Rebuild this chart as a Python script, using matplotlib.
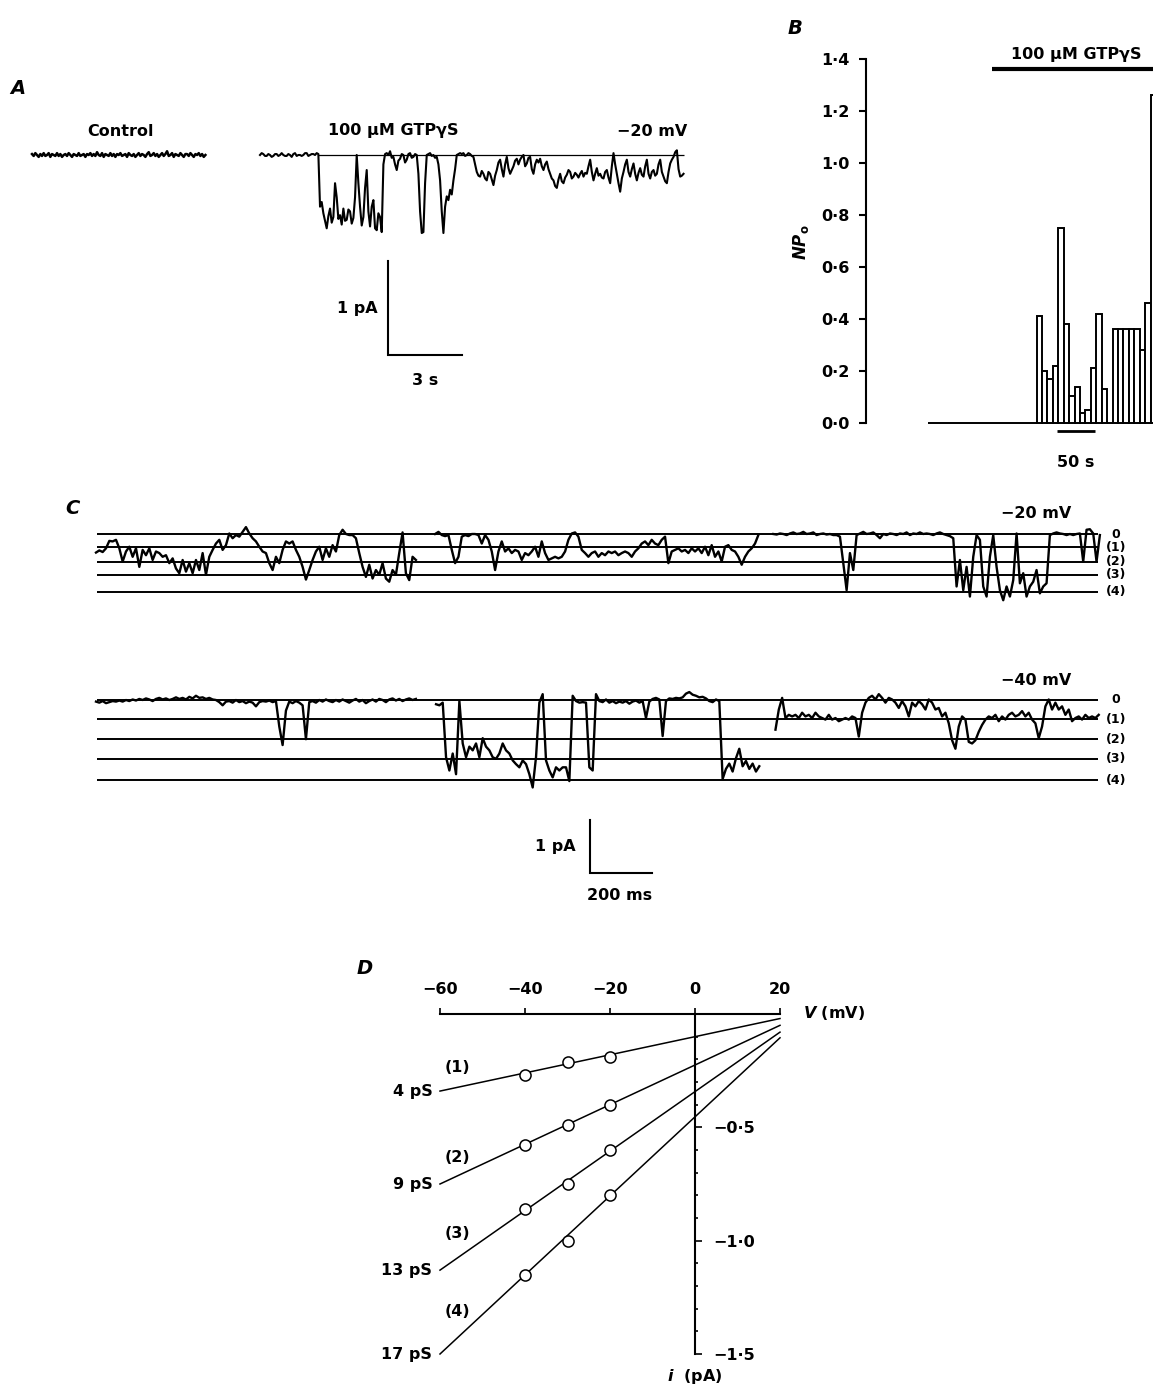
import numpy as np
import matplotlib
matplotlib.use("Agg")
import matplotlib.pyplot as plt
from matplotlib.ticker import MultipleLocator

plt.rcParams['font.family'] = ['DejaVu Sans']
plt.rcParams['font.weight'] = 'bold'
plt.rcParams['mathtext.fontset'] = 'custom'
plt.rcParams['mathtext.it'] = 'DejaVu Sans:italic:bold'
plt.rcParams['mathtext.rm'] = 'DejaVu Sans:bold'
plt.rcParams['mathtext.bf'] = 'DejaVu Sans:bold'

# ------------------------------------------------------------------ data
# Panel A : single-channel current (pA), sampled every A_dt_s seconds
A_dt_s = 0.0676
A_ctrl_pA = [0.01, -0.01, 0.02, 0.00, -0.02, 0.01, -0.01, 0.02, -0.01, 0.00, 0.02, -0.02,
             0.01, 0.00, -0.01, 0.02, -0.01, 0.01, -0.02, 0.00, 0.01, -0.01, 0.02, 0.00,
             -0.02, 0.01, 0.00, -0.01, 0.02, -0.01, 0.00, 0.01, -0.02, 0.01, 0.00, 0.02,
             -0.01, 0.01, -0.01, 0.03, 0.00, -0.01, 0.02, -0.02, 0.01, 0.00, -0.01, 0.02,
             -0.01, 0.01, -0.02, 0.01, 0.00, 0.02, -0.01, 0.00, 0.01, -0.02, 0.02, 0.00,
             -0.01, 0.01, -0.02, 0.00, 0.02, -0.01, 0.01, 0.00, -0.02, 0.01, 0.03, -0.01,
             0.00, 0.02, -0.01, 0.01, -0.02, 0.00, 0.02, -0.01, 0.01, 0.04, -0.01, 0.00,
             0.02, -0.02, 0.01, 0.00, -0.01, 0.02, 0.00, -0.02, 0.01, 0.01, -0.01, 0.02,
             0.00, -0.02, 0.01, 0.00, 0.02, -0.01, 0.01, -0.02, 0.00]
A_gtp_pA = [0.00, 0.02, 0.01, -0.01, -0.01, 0.01, 0.00, -0.02, -0.01, 0.01, 0.01, -0.01,
            0.00, 0.02, 0.00, -0.01, -0.01, 0.01, 0.00, -0.02, 0.01, 0.02, -0.01, 0.00,
            0.00, -0.01, 0.00, 0.02, 0.02, -0.01, 0.00, 0.01, 0.01, 0.00, 0.02, 0.01,
            -0.55, -0.50, -0.62, -0.70, -0.78, -0.65, -0.57, -0.72, -0.66, -0.30, -0.45, -0.68,
            -0.64, -0.74, -0.57, -0.70, -0.69, -0.58, -0.60, -0.73, -0.67, -0.45,
            0.00, -0.30, -0.55, -0.75, -0.66, -0.35, -0.16, -0.60, -0.76, -0.55, -0.48, -0.78,
            -0.80, -0.62, -0.66, -0.82, -0.10,
            0.01, 0.02, 0.00, 0.04, -0.03, -0.02, -0.10, -0.16, -0.06, -0.04, 0.01, 0.00,
            -0.08, -0.05, 0.01, 0.02, -0.03, -0.02, 0.01, 0.00, -0.20,
            -0.60, -0.83, -0.82, -0.30,
            0.00, 0.01, 0.02, -0.01, 0.00, -0.03, -0.02, -0.10,
            -0.27, -0.60, -0.83, -0.55, -0.44, -0.48, -0.37, -0.42, -0.27, -0.15,
            0.00, 0.01, 0.02, 0.01, 0.02, -0.01, 0.00, 0.02, 0.01, -0.01, -0.02, -0.10,
            -0.18, -0.22, -0.23, -0.17, -0.20, -0.25, -0.27, -0.18, -0.20, -0.26, -0.32, -0.22,
            -0.16, -0.08, -0.05, -0.15, -0.23, -0.10, -0.02, -0.14, -0.20, -0.16, -0.12, -0.06,
            -0.04, -0.10, -0.05, -0.02, 0.00, -0.12, -0.09, -0.03, -0.02, -0.15, -0.20, -0.10,
            -0.05, -0.08, -0.04, -0.12, -0.16, -0.10, -0.07, -0.15, -0.20, -0.25, -0.27, -0.33,
            -0.35, -0.26, -0.20, -0.28, -0.30, -0.24, -0.21, -0.16, -0.18, -0.25, -0.23, -0.19,
            -0.21, -0.24, -0.20, -0.17, -0.23, -0.19, -0.20, -0.12, -0.05, -0.18, -0.27, -0.20,
            -0.14, -0.22, -0.20, -0.24, -0.25, -0.18, -0.16, -0.24, -0.30, -0.12, 0.02, -0.10,
            -0.20, -0.30, -0.39, -0.25, -0.18, -0.10, -0.05, -0.18, -0.23, -0.15, -0.09, -0.20,
            -0.27, -0.19, -0.14, -0.21, -0.23, -0.12, -0.05, -0.20, -0.25, -0.18, -0.16, -0.22,
            -0.20, -0.10, -0.05, -0.18, -0.23, -0.28, -0.30, -0.18, -0.09, -0.05, -0.02, 0.03,
            0.05, -0.15, -0.23, -0.22, -0.20]
A_zero_from_s = 2.37

# Panel B : NPo per bin
B_bin_s = 50 / 7
B_npo = [0.0, 0.0, 0.0, 0.0, 0.0, 0.0, 0.0, 0.0, 0.0, 0.0,
         0.0, 0.0, 0.0, 0.0, 0.0, 0.0, 0.0, 0.0, 0.0, 0.0,
         0.41, 0.20, 0.17, 0.22, 0.75, 0.38, 0.105, 0.14, 0.04, 0.05,
         0.21, 0.42, 0.13, 0.0, 0.36, 0.36, 0.36, 0.36, 0.36, 0.28,
         0.46, 1.26]
B_gtp_start_s = 84.0
B_yticks = [0.0, 0.2, 0.4, 0.6, 0.8, 1.0, 1.2, 1.4]

# Panel C : multi-level traces (pA), sampled every C_dt_ms
C_dt_ms = 10.75
C_level_names = ['0', '(1)', '(2)', '(3)', '(4)']
C20_levels = [0.0, -0.25, -0.52, -0.77, -1.09]
C40_levels = [0.0, -0.36, -0.74, -1.11, -1.51]
C_line_ms = [3, 3232]
C20_starts_ms = [0, 1094, 2185]
C20_seg1 = [-0.35, -0.31, -0.34, -0.27, -0.13, -0.14, -0.11, -0.27, -0.52, -0.33, -0.24, -0.43,
            -0.27, -0.62, -0.30, -0.40, -0.27, -0.49, -0.33, -0.36, -0.43, -0.40, -0.55, -0.46,
            -0.65, -0.74, -0.49, -0.71, -0.55, -0.74, -0.49, -0.68, -0.36, -0.77, -0.43, -0.30,
            -0.18, -0.11, -0.30, -0.21, 0.01, -0.08, -0.02, -0.05, 0.04, 0.13, 0.01, -0.08,
            -0.14, -0.24, -0.33, -0.36, -0.55, -0.68, -0.43, -0.55, -0.30, -0.14, -0.18, -0.14,
            -0.30, -0.43, -0.62, -0.86, -0.68, -0.49, -0.33, -0.24, -0.49, -0.27, -0.43, -0.21,
            -0.33, -0.02, 0.08, 0.00, -0.02, -0.02, -0.08, -0.36, -0.62, -0.81, -0.58, -0.84,
            -0.68, -0.77, -0.55, -0.84, -0.90, -0.68, -0.77, -0.36, 0.03, -0.74, -0.87, -0.43,
            -0.49]
C20_seg2 = [0.00, 0.04, -0.02, -0.04, -0.02, -0.30, -0.55, -0.43, -0.05, -0.02, -0.04, 0.00,
            0.00, -0.02, -0.18, -0.02, -0.11, -0.33, -0.68, -0.33, -0.14, -0.33, -0.27, -0.36,
            -0.30, -0.33, -0.49, -0.36, -0.40, -0.33, -0.24, -0.43, -0.14, -0.36, -0.49, -0.46,
            -0.43, -0.46, -0.43, -0.33, -0.11, 0.01, 0.03, -0.05, -0.30, -0.36, -0.43,
            -0.36, -0.33, -0.43, -0.36, -0.40, -0.33, -0.36, -0.33, -0.40, -0.36, -0.33, -0.36,
            -0.43, -0.33, -0.27, -0.18, -0.14, -0.21, -0.11, -0.18, -0.21, -0.11, -0.05, -0.55,
            -0.33, -0.30, -0.27, -0.33, -0.30, -0.36, -0.27, -0.33, -0.27, -0.36, -0.24, -0.40,
            -0.21, -0.43, -0.33, -0.52, -0.24, -0.21, -0.30, -0.33, -0.43, -0.58, -0.43, -0.33,
            -0.27, -0.18, -0.02]
C20_seg3 = [0.00, -0.01, 0.01, 0.00, -0.02, 0.01, 0.03, 0.00, 0.01, 0.04, 0.00, 0.01,
            0.03, -0.02, 0.00, 0.01, -0.01, 0.00, -0.02, -0.02, -0.05, -0.55, -1.06, -0.36,
            -0.68, -0.02, 0.01, 0.04, 0.00, 0.01, 0.03, -0.02, -0.08, 0.00, -0.02, 0.01,
            0.00, -0.02, 0.01, 0.00, 0.03, -0.02, 0.01, 0.00, 0.03, 0.00, 0.01, 0.00,
            -0.02, 0.01, 0.03, 0.00, -0.02, -0.04, -0.08, -0.99, -0.49, -1.06, -0.62, -1.18,
            -0.43, -0.02, -0.11, -0.99, -1.18, -0.43, -0.02, -0.62, -1.06, -1.25, -0.99, -1.18,
            -0.87, 0.01, -0.93, -0.74, -1.18, -0.99, -0.90, -0.68, -1.12, -0.99, -0.93, -0.02,
            0.01, 0.03, 0.01, 0.00, -0.02, 0.00, -0.02, 0.00, 0.01, -0.52, 0.08, 0.09,
            0.01, -0.52, -0.02]
C40_starts_ms = [0, 1097, 2192]
C40_seg1 = [-0.03, -0.05, -0.02, -0.06, -0.04, -0.02, -0.03, -0.01, -0.03, 0.00, -0.02, 0.01,
            -0.01, 0.02, 0.00, 0.03, 0.01, -0.02, 0.02, 0.04, 0.01, 0.03, 0.00, 0.02,
            0.05, 0.02, 0.04, 0.01, 0.06, 0.03, 0.08, 0.04, 0.05, 0.02, 0.04, 0.01,
            0.00, -0.04, -0.10, -0.03, -0.02, -0.05, 0.00, -0.04, -0.02, -0.06, -0.03, -0.05,
            -0.12, -0.04, -0.02, -0.03, -0.01, -0.04, -0.02, -0.50, -0.85, -0.20, -0.03, -0.06,
            -0.02, -0.05, -0.10, -0.74, -0.04, -0.02, -0.05, 0.00, -0.03, 0.01, -0.02, -0.04,
            0.00, -0.03, 0.01, -0.02, -0.05, -0.01, 0.02, -0.03, 0.00, -0.06, -0.02, 0.01,
            -0.03, 0.02, 0.00, -0.04, 0.01, 0.03, -0.01, 0.02, -0.02, 0.01, 0.03, 0.00,
            0.02]
C40_seg2 = [-0.08, -0.10, -0.05, -1.08, -1.33, -1.01, -1.40, -0.02, -0.82, -1.08, -0.88, -0.95,
            -0.82, -1.08, -0.72, -0.88, -0.95, -1.08, -1.11, -1.01, -0.82, -0.95, -1.01, -1.14,
            -1.21, -1.27, -1.14, -1.21, -1.40, -1.65, -1.08, -0.05, 0.11, -1.14, -1.33, -1.46,
            -1.27, -1.33, -1.27, -1.27, -1.53, 0.08, -0.02, -0.05, -0.04, -0.05, -1.27, -1.33,
            0.11, -0.02, -0.04, 0.01, -0.05, -0.02, -0.06, -0.03, -0.05, -0.02, -0.07, -0.03,
            -0.01, -0.05, -0.02, -0.34, -0.03, 0.02, 0.04, 0.01, -0.68, -0.02, 0.03, 0.02,
            0.04, 0.03, 0.05, 0.12, 0.15, 0.10, 0.08, 0.05, 0.06, 0.03, -0.02, -0.04,
            0.01, -0.02, -1.49, -1.30, -1.20, -1.35, -1.10, -0.92, -1.25, -1.15, -1.30, -1.20,
            -1.35, -1.25]
C40_seg3 = [-0.56, -0.18, 0.04, -0.34, -0.28, -0.31, -0.28, -0.34, -0.24, -0.31, -0.28, -0.34,
            -0.24, -0.31, -0.34, -0.37, -0.28, -0.37, -0.34, -0.40, -0.37, -0.34, -0.37, -0.31,
            -0.34, -0.69, -0.24, -0.05, 0.04, 0.08, 0.01, 0.11, 0.04, -0.05, 0.04, 0.01,
            -0.05, -0.15, -0.02, -0.12, -0.31, -0.05, -0.12, -0.02, -0.08, -0.18, 0.01, -0.05,
            -0.18, -0.15, -0.31, -0.24, -0.44, -0.76, -0.92, -0.50, -0.31, -0.37, -0.79, -0.82,
            -0.76, -0.60, -0.47, -0.37, -0.31, -0.34, -0.28, -0.40, -0.31, -0.37, -0.28, -0.24,
            -0.31, -0.28, -0.21, -0.31, -0.24, -0.37, -0.44, -0.72, -0.50, -0.12, 0.01, -0.18,
            -0.05, -0.18, -0.12, -0.28, -0.18, -0.40, -0.34, -0.31, -0.37, -0.28, -0.34, -0.31,
            -0.34, -0.28]

# Panel D : i-V relations
D_V_mV = [-40, -30, -20]
D_i_pA = {1: [-0.27, -0.21, -0.19],
          2: [-0.58, -0.49, -0.40],
          3: [-0.86, -0.75, -0.60],
          4: [-1.15, -1.00, -0.80]}
D_fit_V = [-60, 20]
D_fit_i = {1: [-0.34, -0.02],
           2: [-0.75, -0.05],
           3: [-1.13, -0.08],
           4: [-1.50, -0.105]}
D_g_pS = [4, 9, 13, 17]
D_xticks = [-60, -40, -20, 0, 20]
D_yticks = [-1.5, -1.0, -0.5]

# ------------------------------------------------------------------ layout
W, H = 1153, 1390
fig = plt.figure(figsize=(W / 100, H / 100), dpi=100)
fig.patch.set_facecolor('white')
FS = 11.5
LW = 1.5


def box(x0, y0, x1, y1):
    return [x0 / W, 1 - y1 / H, (x1 - x0) / W, (y1 - y0) / H]


def trace_axes(x0, y0, x1, y1, xo, yo, px_x, px_y):
    ax = fig.add_axes(box(x0, y0, x1, y1))
    ax.set_xlim((x0 - xo) / px_x, (x1 - xo) / px_x)
    ax.set_ylim(-(y1 - yo) / px_y, -(y0 - yo) / px_y)
    ax.axis('off')
    return ax


def ftext(x, y, s, **kw):
    kw.setdefault('fontsize', FS)
    kw.setdefault('ha', 'center')
    kw.setdefault('va', 'center')
    fig.text(x / W, 1 - y / H, s, **kw)


def letter(x, y, s):
    ftext(x, y, s, fontsize=14, style='italic', weight='bold')


# ---------------- Panel A
letter(18, 88, 'A')
axc = trace_axes(20, 110, 240, 260, 32, 155, 74 / 3, 94)
axc.plot(np.arange(len(A_ctrl_pA)) * A_dt_s, A_ctrl_pA, color='k', lw=1.8)

axa = trace_axes(245, 110, 710, 400, 260, 155, 74 / 3, 94)
ta = np.arange(len(A_gtp_pA)) * A_dt_s
axa.plot(ta, A_gtp_pA, color='k', lw=1.5)
axa.hlines(0, A_zero_from_s, ta[-1], color='k', lw=0.9)
sb_x = (388 - 260) * 3 / 74
sb_y = -(355 - 155) / 94
axa.plot([sb_x, sb_x, sb_x + 3], [sb_y + 1, sb_y, sb_y], color='k', lw=LW,
         clip_on=False, solid_joinstyle='miter')
ftext(121, 131, 'Control')
ftext(393, 131, '100 μM GTPγS')
ftext(652, 131, '−20 mV')
ftext(357, 308, '1 pA')
ftext(425, 380, '3 s')

# ---------------- Panel B
letter(795, 28, 'B')
px_s = 5.43 / B_bin_s
axb = fig.add_axes(box(866, 59, 1260, 433))
axb.set_xlim((866 - 928) / px_s, (1260 - 928) / px_s)
axb.set_ylim(-(433 - 423) / (364 / 1.4), 1.4)
axb.bar(np.arange(len(B_npo)) * B_bin_s, B_npo, width=B_bin_s, align='edge',
        facecolor='white', edgecolor='k', lw=1.4, clip_on=False)
for s in ['top', 'right', 'bottom']:
    axb.spines[s].set_visible(False)
axb.spines['left'].set_bounds(0, 1.4)
axb.spines['left'].set_linewidth(LW)
axb.set_xticks([])
axb.set_yticks(B_yticks)
axb.set_yticklabels([f'{v:.1f}'.replace('.', '·') for v in B_yticks], fontsize=FS)
axb.tick_params(axis='y', direction='out', length=5, width=LW, pad=7)
axb.patch.set_alpha(0)
axb.plot([B_gtp_start_s, axb.get_xlim()[1]], [1.36, 1.36], color='k', lw=3,
         clip_on=False, solid_capstyle='butt')
t50 = (1057 - 928) / px_s
axb.plot([t50, t50 + 50], [-(431 - 423) / (364 / 1.4)] * 2, color='k', lw=2,
         clip_on=False, solid_capstyle='butt')
ftext(1076, 54, '100 μM GTPγS')
ftext(1076, 462, '50 s')
ftext(801, 242, r'$NP_\mathrm{o}$', rotation=90, fontsize=12)

# ---------------- Panel C
letter(72, 508, 'C')
px_ms = 1 / 3.226
rows = [(500, 620, 534, C20_levels, C20_starts_ms, [C20_seg1, C20_seg2, C20_seg3]),
        (665, 800, 700, C40_levels, C40_starts_ms, [C40_seg1, C40_seg2, C40_seg3])]
axes_c = []
for (y0, y1, yo, levels, starts, segs) in rows:
    ax = trace_axes(90, y0, 1140, y1, 96, yo, px_ms, 53)
    ax.hlines(levels, C_line_ms[0], C_line_ms[1], color='k', lw=1.4)
    for st, seg in zip(starts, segs):
        ax.plot(st + np.arange(len(seg)) * C_dt_ms, seg, color='k', lw=1.7,
                solid_joinstyle='round')
    for lv, nm in zip(levels, C_level_names):
        ax.text((1116 - 96) / px_ms, lv, nm, fontsize=9, ha='center', va='center')
    axes_c.append(ax)
ax40 = axes_c[1]
cx = (590 - 96) / px_ms
cy = -(873 - 700) / 53
ax40.plot([cx, cx, cx + 200], [cy + 1, cy, cy], color='k', lw=LW, clip_on=False,
          solid_joinstyle='miter')
ftext(1036, 514, '−20 mV')
ftext(1036, 680, '−40 mV')
ftext(555, 847, '1 pA')
ftext(620, 895, '200 ms')

# ---------------- Panel D
letter(365, 968, 'D')
axd = fig.add_axes(box(440, 1014, 780, 1354))
axd.set_xlim(-60, 20)
axd.set_ylim(-1.5, 0)
axd.patch.set_alpha(0)
axd.spines['left'].set_visible(False)
axd.spines['bottom'].set_visible(False)
axd.spines['top'].set_position(('data', 0))
axd.spines['right'].set_position(('data', 0))
axd.spines['top'].set_bounds(-60, 20)
axd.spines['right'].set_bounds(-1.5, 0)
for s in ['top', 'right']:
    axd.spines[s].set_linewidth(LW)
axd.xaxis.set_ticks_position('top')
axd.yaxis.set_ticks_position('right')
axd.set_xticks(D_xticks)
axd.set_xticklabels([f'{v}'.replace('-', '−') for v in D_xticks], fontsize=FS)
axd.set_yticks(D_yticks)
axd.set_yticklabels([f'{v:.1f}'.replace('-', '−').replace('.', '·') for v in D_yticks],
                    fontsize=FS)
axd.yaxis.set_minor_locator(MultipleLocator(0.1))
axd.tick_params(axis='x', direction='out', length=4, width=1.2, pad=8)
axd.tick_params(axis='y', which='major', direction='out', length=5, width=1.2, pad=8)
axd.tick_params(axis='y', which='minor', direction='out', length=2.5, width=1.2)
for k in [1, 2, 3, 4]:
    axd.plot(D_fit_V, D_fit_i[k], color='k', lw=1.1, clip_on=False)
    axd.plot(D_V_mV, D_i_pA[k], 'o', mfc='white', mec='k', ms=8, mew=1.1,
             clip_on=False)
    axd.text(-61.8, D_fit_i[k][0], f'{D_g_pS[k - 1]} pS', fontsize=FS,
             ha='right', va='center')
for y, nm in zip([1068, 1158, 1234, 1311], ['(1)', '(2)', '(3)', '(4)']):
    ftext(457, y, nm)
ftext(803, 1013, r'$V$ (mV)', ha='left', fontsize=11.5)
ftext(695, 1376, r'$i$  (pA)', fontsize=11.5)

fig.savefig('out.png', dpi=100, facecolor='white')
